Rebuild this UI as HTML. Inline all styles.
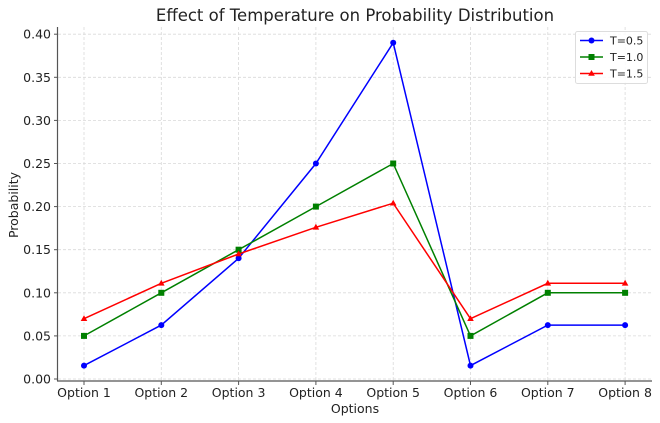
<!DOCTYPE html>
<html><head><style>body{margin:0;background:#fff}svg{display:block}</style></head><body>
<svg width="660" height="423" viewBox="0 0 660 423" xmlns="http://www.w3.org/2000/svg" font-family="DejaVu Sans, Liberation Sans, sans-serif">
<rect width="660" height="423" fill="#fff"/>
<g stroke="#d9d9d9" stroke-width="0.8" stroke-dasharray="3,2">
<line x1="58" x2="652" y1="379" y2="379"/><line x1="58" x2="652" y1="335.9" y2="335.9"/><line x1="58" x2="652" y1="292.8" y2="292.8"/><line x1="58" x2="652" y1="249.7" y2="249.7"/><line x1="58" x2="652" y1="206.6" y2="206.6"/><line x1="58" x2="652" y1="163.5" y2="163.5"/><line x1="58" x2="652" y1="120.4" y2="120.4"/><line x1="58" x2="652" y1="77.3" y2="77.3"/><line x1="58" x2="652" y1="34.2" y2="34.2"/>
<line y1="27" y2="381" x1="84" x2="84"/><line y1="27" y2="381" x1="161.3" x2="161.3"/><line y1="27" y2="381" x1="238.6" x2="238.6"/><line y1="27" y2="381" x1="315.9" x2="315.9"/><line y1="27" y2="381" x1="393.2" x2="393.2"/><line y1="27" y2="381" x1="470.5" x2="470.5"/><line y1="27" y2="381" x1="547.8" x2="547.8"/><line y1="27" y2="381" x1="625.1" x2="625.1"/>
</g>
<g stroke="#555" stroke-width="1.2"><line x1="57.5" y1="27" x2="57.5" y2="381"/><line x1="57" y1="381" x2="652" y2="381"/></g>
<g stroke="#555" stroke-width="1">
<line x1="54" x2="57" y1="379" y2="379"/><line x1="54" x2="57" y1="335.9" y2="335.9"/><line x1="54" x2="57" y1="292.8" y2="292.8"/><line x1="54" x2="57" y1="249.7" y2="249.7"/><line x1="54" x2="57" y1="206.6" y2="206.6"/><line x1="54" x2="57" y1="163.5" y2="163.5"/><line x1="54" x2="57" y1="120.4" y2="120.4"/><line x1="54" x2="57" y1="77.3" y2="77.3"/><line x1="54" x2="57" y1="34.2" y2="34.2"/>
<line y1="381" y2="385" x1="84" x2="84"/><line y1="381" y2="385" x1="161.3" x2="161.3"/><line y1="381" y2="385" x1="238.6" x2="238.6"/><line y1="381" y2="385" x1="315.9" x2="315.9"/><line y1="381" y2="385" x1="393.2" x2="393.2"/><line y1="381" y2="385" x1="470.5" x2="470.5"/><line y1="381" y2="385" x1="547.8" x2="547.8"/><line y1="381" y2="385" x1="625.1" x2="625.1"/>
</g>
<g font-size="12.5" fill="#222" text-anchor="end">
<text x="51" y="383.5">0.00</text><text x="51" y="340.4">0.05</text><text x="51" y="297.3">0.10</text><text x="51" y="254.2">0.15</text><text x="51" y="211.1">0.20</text><text x="51" y="168">0.25</text><text x="51" y="124.9">0.30</text><text x="51" y="81.8">0.35</text><text x="51" y="38.7">0.40</text>
</g>
<g font-size="12.5" fill="#222" text-anchor="middle">
<text x="84" y="397">Option 1</text><text x="161.3" y="397">Option 2</text><text x="238.6" y="397">Option 3</text><text x="315.9" y="397">Option 4</text><text x="393.2" y="397">Option 5</text><text x="470.5" y="397">Option 6</text><text x="547.8" y="397">Option 7</text><text x="625.1" y="397">Option 8</text>
<text x="355" y="413">Options</text>
<text x="355" y="21" font-size="16.5">Effect of Temperature on Probability Distribution</text>
<text transform="translate(18,205) rotate(-90)">Probability</text>
</g>
<polyline fill="none" stroke="#0000ff" stroke-width="1.5" points="84,365.6 161.3,325.1 238.6,258.3 315.9,163.5 393.2,42.8 470.5,365.6 547.8,325.1 625.1,325.1"/>
<polyline fill="none" stroke="#008000" stroke-width="1.5" points="84,335.9 161.3,292.8 238.6,249.7 315.9,206.6 393.2,163.5 470.5,335.9 547.8,292.8 625.1,292.8"/>
<polyline fill="none" stroke="#ff0000" stroke-width="1.5" points="84,318.7 161.3,283.3 238.6,254 315.9,227.3 393.2,203.2 470.5,318.7 547.8,283.3 625.1,283.3"/>
<g fill="#0000ff"><circle cx="84" cy="365.6" r="3"/><circle cx="161.3" cy="325.1" r="3"/><circle cx="238.6" cy="258.3" r="3"/><circle cx="315.9" cy="163.5" r="3"/><circle cx="393.2" cy="42.8" r="3"/><circle cx="470.5" cy="365.6" r="3"/><circle cx="547.8" cy="325.1" r="3"/><circle cx="625.1" cy="325.1" r="3"/></g>
<g fill="#008000"><rect x="81" y="332.9" width="6" height="6"/><rect x="158.3" y="289.8" width="6" height="6"/><rect x="235.6" y="246.7" width="6" height="6"/><rect x="312.9" y="203.6" width="6" height="6"/><rect x="390.2" y="160.5" width="6" height="6"/><rect x="467.5" y="332.9" width="6" height="6"/><rect x="544.8" y="289.8" width="6" height="6"/><rect x="622.1" y="289.8" width="6" height="6"/></g>
<g fill="#ff0000">
<polygon points="84,315.2 87.3,321 80.7,321"/><polygon points="161.3,279.8 164.6,285.6 158,285.6"/><polygon points="238.6,250.5 241.9,256.3 235.3,256.3"/><polygon points="315.9,223.8 319.2,229.6 312.6,229.6"/><polygon points="393.2,199.7 396.5,205.5 389.9,205.5"/><polygon points="470.5,315.2 473.8,321 467.2,321"/><polygon points="547.8,279.8 551.1,285.6 544.5,285.6"/><polygon points="625.1,279.8 628.4,285.6 621.8,285.6"/>
</g>
<rect x="575.5" y="31.5" width="72" height="52" rx="2" fill="#fff" fill-opacity="0.85" stroke="#ddd"/>
<line x1="580" x2="603" y1="40.5" y2="40.5" stroke="#0000ff" stroke-width="1.5"/><circle cx="591.5" cy="40.5" r="3" fill="#0000ff"/>
<line x1="580" x2="603" y1="57" y2="57" stroke="#008000" stroke-width="1.5"/><rect x="588.5" y="54" width="6" height="6" fill="#008000"/>
<line x1="580" x2="603" y1="73.5" y2="73.5" stroke="#ff0000" stroke-width="1.5"/><polygon points="591.5,70 594.8,75.8 588.2,75.8" fill="#ff0000"/>
<g font-size="11" fill="#222"><text x="610" y="44.5">T=0.5</text><text x="610" y="61">T=1.0</text><text x="610" y="77.5">T=1.5</text></g>
</svg>
</body></html>
